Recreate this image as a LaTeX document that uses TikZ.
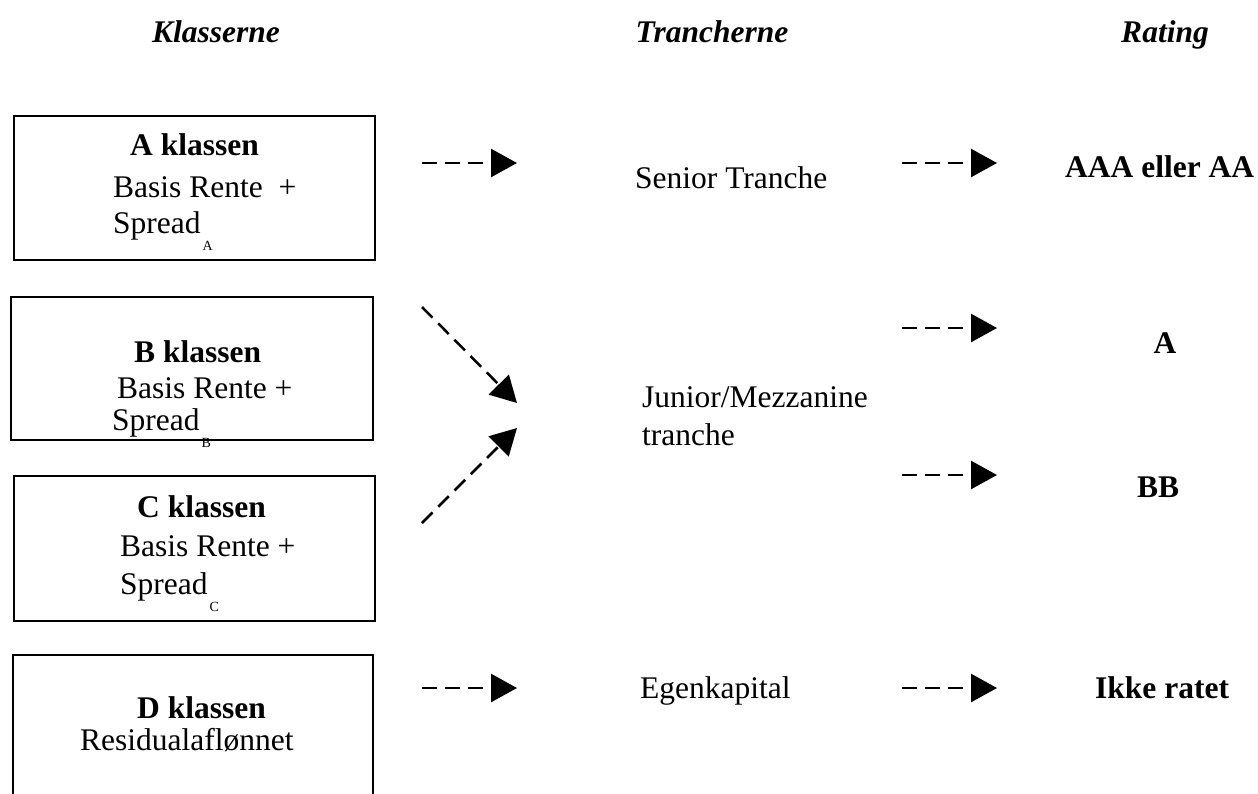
\documentclass[tikz,border=0pt]{standalone}
\usepackage{fontspec}
\setmainfont{Liberation Serif}
\usetikzlibrary{arrows.meta}
\newcommand\lowsub[1]{\hspace{2pt}\raisebox{-17pt}{\fontsize{14}{14}\selectfont #1}}
\begin{document}
\begin{tikzpicture}[x=1pt,y=-1pt,
  box/.style={draw,line width=2pt,inner sep=0pt,anchor=north west},
  txt/.style={anchor=base west,inner sep=0pt,font=\fontsize{31.5}{36}\selectfont},
  btxt/.style={txt,font=\fontsize{31.5}{36}\selectfont\bfseries},
  head/.style={anchor=base,inner sep=0pt,font=\fontsize{31.5}{36}\selectfont\bfseries\itshape},
  flow/.style={line width=2.5pt,dash pattern=on 15pt off 8pt,-{Triangle[length=26pt,width=28pt]}}]
\useasboundingbox (0,0) rectangle (1258,793);
\clip (0,0) rectangle (1258,793);
% headings
\node[head] (hK) at (216,42) {Klasserne};
\node[head] (hT) at (712,42) {Trancherne};
\node[head] (hR) at (1165,42) {Rating};
% boxes
\node[box,minimum width=361pt,minimum height=144pt] (boxA) at (13,115) {};
\node[box,minimum width=362pt,minimum height=143pt] (boxB) at (10,296) {};
\node[box,minimum width=361pt,minimum height=145pt] (boxC) at (13,475) {};
\node[inner sep=0pt,anchor=north west,minimum width=360pt,minimum height=170pt] (boxD) at (13,655) {};
\draw[line width=2pt] (boxD.south west) |- (boxD.north east) -- (boxD.south east);
% box texts
\node[btxt] (At) at (130,155) {A klassen};
\node[txt] (A1) at (113,197) {Basis Rente\ \ +};
\node[txt] (A2) at (113,233) {Spread\lowsub{A}};
\node[btxt] (Bt) at (134,362) {B klassen};
\node[txt] (B1) at (117,398) {Basis Rente +};
\node[txt] (B2) at (112,430) {Spread\lowsub{B}};
\node[btxt] (Ct) at (137,517) {C klassen};
\node[txt] (C1) at (120,556) {Basis Rente +};
\node[txt] (C2) at (120,594) {Spread\lowsub{C}};
\node[btxt] (Dt) at (137,718) {D klassen};
\node[txt] (D1) at (80,750) {Residualaflønnet};
% tranches
\node[txt] (T1) at (635,188) {Senior Tranche};
\node[txt] (T2a) at (642,407) {Junior/Mezzanine};
\node[txt] (T2b) at (642,445) {tranche};
\node[txt] (T3) at (640,698) {Egenkapital};
% ratings
\node[btxt] (R1) at (1065,177) {AAA eller AA};
\node[btxt,anchor=base] (R2) at (1165,353) {A};
\node[btxt,anchor=base] (R3) at (1158,497) {BB};
\node[btxt] (R4) at (1095,698) {Ikke ratet};
% arrow coordinates
\coordinate (a1s) at (422,163); \coordinate (a1e) at (517,163);
\coordinate (a2s) at (422,307); \coordinate (a2e) at (517,403);
\coordinate (a3s) at (422,523); \coordinate (a3e) at (517,428);
\coordinate (a4s) at (422,688); \coordinate (a4e) at (517,688);
\coordinate (r1s) at (902,163); \coordinate (r1e) at (997,163);
\coordinate (r2s) at (902,328); \coordinate (r2e) at (997,328);
\coordinate (r3s) at (902,475); \coordinate (r3e) at (997,475);
\coordinate (r4s) at (902,688); \coordinate (r4e) at (997,688);
\foreach \p in {a1,a2,a3,a4,r1,r2,r3,r4}{\draw[flow] (\p s) -- (\p e);}
\end{tikzpicture}
\end{document}
